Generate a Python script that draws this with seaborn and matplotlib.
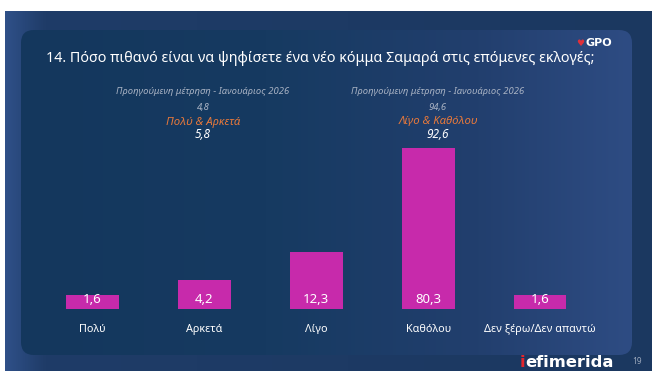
import numpy as np
import matplotlib
matplotlib.use("Agg")
import matplotlib.pyplot as plt
from matplotlib.colors import LinearSegmentedColormap
from matplotlib.patches import FancyBboxPatch
import matplotlib.transforms as mtransforms
import seaborn as sns

# Δεδομένα του γραφήματος
categories = ["Πολύ", "Αρκετά", "Λίγο", "Καθόλου", "Δεν ξέρω/Δεν απαντώ"]
values = [1.6, 4.2, 12.3, 80.3, 1.6]
value_labels = ["1,6", "4,2", "12,3", "80,3", "1,6"]

prev_note = "Προηγούμενη μέτρηση - Ιανουάριος 2026"
groups = ["Πολύ & Αρκετά", "Λίγο & Καθόλου"]
group_prev = ["4,8", "94,6"]
group_now = ["5,8", "92,6"]

title = "14. Πόσο πιθανό είναι να ψηφίσετε ένα νέο κόμμα Σαμαρά στις επόμενες εκλογές;"

sns.set_theme(style="white")
plt.rcParams['font.family'] = ['Noto Sans', 'DejaVu Sans']

W, H = 652, 380
fig = plt.figure(figsize=(W / 100, H / 100), dpi=100)
fig.patch.set_facecolor('white')

# fundo em coordenadas de pixel
bg = fig.add_axes([0, 0, 1, 1])
bg.set_xlim(0, W)
bg.set_ylim(H, 0)
bg.axis('off')

grad = np.linspace(0, 1, 256).reshape(1, -1)
outer_cmap = LinearSegmentedColormap.from_list(
    'outer', [(0, '#2f5088'), (0.06, '#1f3c68'), (1, '#1b3860')])
bg.imshow(grad, cmap=outer_cmap, extent=(5, W, 371, 11), aspect='auto', zorder=0)

panel = FancyBboxPatch((21, 30), 611, 325, boxstyle='round,pad=0,rounding_size=13',
                       facecolor='none', edgecolor='none')
bg.add_patch(panel)
inner_cmap = LinearSegmentedColormap.from_list(
    'inner', [(0, '#14375d'), (0.4, '#163a61'), (0.75, '#223f6e'), (1, '#2e4c83')])
im = bg.imshow(grad, cmap=inner_cmap, extent=(21, 632, 355, 30), aspect='auto', zorder=1)
im.set_clip_path(panel)

bg.set_xlim(0, W)
bg.set_ylim(H, 0)

# gráfico de barras
ax = fig.add_axes([21 / W, 1 - 309 / H, 611 / W, 161 / H])
ax.patch.set_alpha(0)
sns.barplot(x=categories, y=values, color='#c72aab', saturation=1, width=0.47,
            linewidth=0, ax=ax)

ax.set_yscale('function', functions=(lambda v: np.sqrt(np.clip(v, 0, None)), np.square))
ax.set_ylim(0.3, 80.3)
ax.set_xlim(-0.639, 4.821)
sns.despine(ax=ax, left=True, bottom=True)
ax.set_yticks([])
ax.set_ylabel('')
ax.set_xlabel('')
ax.tick_params(axis='x', length=0, pad=11, labelsize=7.8, labelcolor='white')

trans = mtransforms.blended_transform_factory(ax.transData, ax.transAxes)
for i, lab in enumerate(value_labels):
    ax.text(i, 0.062, lab, transform=trans, ha='center', va='center',
            color='white', fontsize=9.5)

# títulos e notas
bg.text(46, 59, title, fontsize=10.3, color='white', ha='left', va='center')

for cx, grp, prev, now in zip([203, 438], groups, group_prev, group_now):
    bg.text(cx, 92, prev_note, fontsize=6.8, color='#a9b3c4', style='italic',
            ha='center', va='center')
    bg.text(cx, 107.5, prev, fontsize=6.8, color='#a9b3c4', style='italic',
            ha='center', va='center')
    bg.text(cx, 122, grp, fontsize=8.2, color='#e8793b', style='italic',
            ha='center', va='center')
    bg.text(cx, 134, now, fontsize=8.5, color='white', style='italic',
            fontweight='bold', ha='center', va='center')

# logos
bg.text(580, 43, '♥', color='#e0303a', fontsize=6.5, ha='center', va='center',
        family='DejaVu Sans')
bg.text(585, 43, 'GPO', color='white', fontsize=8, fontweight='bold',
        ha='left', va='center', family='DejaVu Sans')

ti = bg.text(520, 367, 'i', color='#e3262d', fontsize=11.8, fontweight='bold',
             ha='left', va='baseline', family='DejaVu Sans')
bg.annotate('efimerida', xy=(1, 0), xycoords=ti, color='white', fontsize=11.8,
            fontweight='bold', ha='left', va='bottom', family='DejaVu Sans')
bg.text(637, 362, '19', color='#9aa7bb', fontsize=6, ha='center', va='center')

plt.savefig('out.png', dpi=100)
